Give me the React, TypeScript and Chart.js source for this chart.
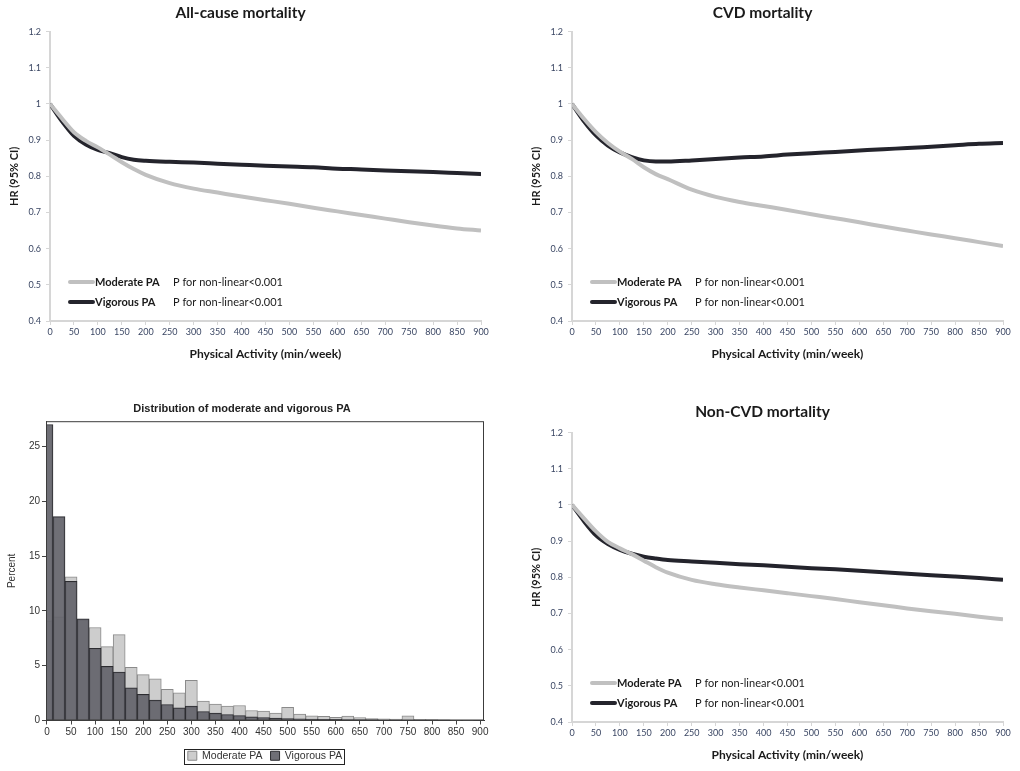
import React, { useEffect, useRef } from "react";
import { Chart, registerables } from "chart.js";

Chart.register(...registerables);

// x positions (min/week) where the spline curves are sampled
const paMinutes = [0, 25, 50, 75, 100, 125, 150, 175, 200, 250, 300, 350, 400, 450, 500, 550, 600, 650, 700, 750, 800, 850, 900];

const allCauseModerate = [1.0, 0.96, 0.922, 0.898, 0.88, 0.86, 0.839, 0.82, 0.804, 0.781, 0.766, 0.755, 0.744, 0.734, 0.724, 0.713, 0.703, 0.693, 0.683, 0.673, 0.664, 0.656, 0.65];
const allCauseVigorous = [1.0, 0.952, 0.912, 0.888, 0.873, 0.864, 0.853, 0.846, 0.843, 0.84, 0.838, 0.835, 0.832, 0.829, 0.827, 0.825, 0.821, 0.819, 0.816, 0.814, 0.812, 0.809, 0.806];

const cvdModerate = [1.0, 0.959, 0.922, 0.892, 0.868, 0.848, 0.825, 0.806, 0.792, 0.763, 0.743, 0.729, 0.718, 0.707, 0.695, 0.684, 0.673, 0.661, 0.65, 0.639, 0.629, 0.618, 0.607];
const cvdVigorous = [1.0, 0.952, 0.913, 0.885, 0.866, 0.853, 0.844, 0.841, 0.841, 0.844, 0.848, 0.852, 0.855, 0.86, 0.864, 0.867, 0.871, 0.875, 0.878, 0.882, 0.886, 0.89, 0.892];

const nonCvdModerate = [1.0, 0.963, 0.927, 0.898, 0.88, 0.864, 0.846, 0.828, 0.813, 0.793, 0.781, 0.772, 0.764, 0.756, 0.748, 0.74, 0.731, 0.723, 0.714, 0.706, 0.699, 0.691, 0.684];
const nonCvdVigorous = [1.0, 0.955, 0.916, 0.892, 0.876, 0.865, 0.857, 0.852, 0.848, 0.844, 0.84, 0.836, 0.833, 0.829, 0.825, 0.822, 0.818, 0.814, 0.81, 0.806, 0.802, 0.798, 0.793];

const seriesNames = ["Moderate PA", "Vigorous PA"];
const pValueText = ["P for non-linear<0.001", "P for non-linear<0.001"];

const hrTicks = [0.4, 0.5, 0.6, 0.7, 0.8, 0.9, 1, 1.1, 1.2];
const paTicks = [0, 50, 100, 150, 200, 250, 300, 350, 400, 450, 500, 550, 600, 650, 700, 750, 800, 850, 900];

// histogram bins (centre, min/week) and percent of participants
const histBins = [0, 25, 50, 75, 100, 125, 150, 175, 200, 225, 250, 275, 300, 325, 350, 375, 400, 425, 450, 475, 500, 525, 550, 575, 600, 625, 650, 675, 700, 725, 750, 775, 800, 825, 850, 875];
const histModerate = [9.1, 9.45, 13.1, 9.2, 8.48, 6.74, 7.84, 4.85, 4.18, 3.81, 2.84, 2.53, 3.66, 1.77, 1.49, 1.31, 1.37, 0.91, 0.85, 0.67, 1.19, 0.58, 0.43, 0.37, 0.3, 0.4, 0.27, 0.18, 0.15, 0.12, 0.43, 0.1, 0.08, 0.05, 0.04, 0.03];
const histVigorous = [27.0, 18.6, 12.7, 9.27, 6.59, 4.94, 4.42, 2.99, 2.38, 1.86, 1.46, 1.16, 1.31, 0.82, 0.67, 0.55, 0.46, 0.34, 0.27, 0.21, 0.18, 0.15, 0.12, 0.1, 0.1, 0.06, 0.05, 0.05, 0.04, 0.03, 0.03, 0.02, 0.02, 0.02, 0.01, 0.01];
const percentTicks = [0, 5, 10, 15, 20, 25];

const lineColors = ["#c0c0c0", "#24242c"];
const tickColor = "#3a4663";
const axisGray = "#d6d6d6";
const calibriLike = "Lato, 'Open Sans', sans-serif";
const arialLike = "'Liberation Sans', Arial, sans-serif";

// legend drawn inside the plot area, bottom-left, like the original figure
const insetLegend = {
  id: "insetLegend",
  afterDatasetsDraw(chart: any) {
    const { ctx, chartArea } = chart;
    ctx.save();
    chart.data.datasets.forEach((ds: any, i: number) => {
      const y = chartArea.bottom - 39 + i * 20;
      ctx.strokeStyle = ds.borderColor;
      ctx.lineWidth = 4;
      ctx.lineCap = "round";
      ctx.beginPath();
      ctx.moveTo(chartArea.left + 20, y);
      ctx.lineTo(chartArea.left + 43, y);
      ctx.stroke();
      ctx.fillStyle = "#1a1a1a";
      ctx.textBaseline = "middle";
      ctx.font = `bold 11px ${calibriLike}`;
      ctx.fillText(ds.label, chartArea.left + 45, y);
      ctx.font = `11px ${calibriLike}`;
      ctx.fillText(pValueText[i], chartArea.left + 123, y);
    });
    ctx.restore();
  },
};

const plotFrame = {
  id: "plotFrame",
  afterDatasetsDraw(chart: any) {
    const { ctx, chartArea } = chart;
    ctx.save();
    ctx.strokeStyle = "#3c3c3c";
    ctx.lineWidth = 1;
    ctx.strokeRect(chartArea.left + 0.5, chartArea.top + 0.5, chartArea.width - 1, chartArea.height - 1);
    ctx.restore();
  },
};

const legendBorder = {
  id: "legendBorder",
  afterDraw(chart: any) {
    const boxes = chart.legend?.legendHitBoxes;
    if (!boxes || !boxes.length) return;
    const left = Math.min(...boxes.map((b: any) => b.left)) - 4;
    const right = Math.max(...boxes.map((b: any) => b.left + b.width)) + 2;
    const top = boxes[0].top - 2;
    const h = boxes[0].height + 4;
    const { ctx } = chart;
    ctx.save();
    ctx.strokeStyle = "#222";
    ctx.lineWidth = 1;
    ctx.strokeRect(Math.round(left) + 0.5, Math.round(top) + 0.5, Math.round(right - left), Math.round(h));
    ctx.restore();
  },
};

function lineConfig(title: string, moderate: number[], vigorous: number[], titlePad: { top: number; bottom: number }, leftPad: number, rightPad: number): any {
  const series = [moderate, vigorous];
  return {
    type: "line",
    data: {
      datasets: series.map((vals, i) => ({
        label: seriesNames[i],
        data: paMinutes.map((x, j) => ({ x, y: vals[j] })),
        borderColor: lineColors[i],
        borderWidth: 4,
        pointRadius: 0,
        cubicInterpolationMode: "monotone",
        fill: false,
      })),
    },
    options: {
      responsive: false,
      animation: false,
      layout: { padding: { left: leftPad, right: rightPad, top: 0, bottom: 0 } },
      plugins: {
        legend: { display: false },
        tooltip: { enabled: false },
        title: {
          display: true,
          text: title,
          color: "#1a1a1a",
          font: { family: calibriLike, size: 15.5, weight: "bold", lineHeight: 1.2 },
          padding: titlePad,
        },
      },
      scales: {
        x: {
          type: "linear",
          min: 0,
          max: 900,
          afterBuildTicks: (axis: any) => {
            axis.ticks = paTicks.map((v) => ({ value: v }));
          },
          afterFit: (axis: any) => {
            axis.height = 49;
          },
          ticks: { autoSkip: false, maxRotation: 0, color: tickColor, padding: 2, font: { family: calibriLike, size: 9 } },
          grid: { drawOnChartArea: false, drawTicks: true, tickLength: 4, color: axisGray },
          border: { color: axisGray, width: 2 },
          title: {
            display: true,
            text: "Physical Activity (min/week)",
            color: "#1a1a1a",
            font: { family: calibriLike, size: 12, weight: "bold" },
            padding: { top: 0, bottom: 9 },
          },
        },
        y: {
          min: 0.4,
          max: 1.2,
          afterBuildTicks: (axis: any) => {
            axis.ticks = hrTicks.map((v) => ({ value: v }));
          },
          afterFit: (axis: any) => {
            axis.width = 50;
          },
          ticks: { color: tickColor, padding: 5, callback: (v: any) => String(v), font: { family: calibriLike, size: 9 } },
          grid: { drawOnChartArea: false, drawTicks: true, tickLength: 4, color: axisGray },
          border: { color: axisGray, width: 2 },
          title: {
            display: true,
            text: "HR (95% CI)",
            color: "#1a1a1a",
            font: { family: calibriLike, size: 11, weight: "bold" },
            padding: { top: 8, bottom: 0 },
          },
        },
      },
    },
    plugins: [insetLegend],
  };
}

function histConfig(): any {
  const series = [histModerate, histVigorous];
  const fills = ["#cdcdcd", "rgba(100,100,108,0.93)"];
  const borders = ["#8a8a8a", "#2c2c30"];
  return {
    type: "bar",
    data: {
      datasets: series.map((vals, i) => ({
        label: seriesNames[i],
        data: histBins.map((x, j) => ({ x, y: vals[j] })),
        backgroundColor: fills[i],
        borderColor: borders[i],
        borderWidth: 1,
        barPercentage: 1,
        categoryPercentage: 1,
        grouped: false,
        clip: 0,
        order: 2 - i,
      })),
    },
    options: {
      responsive: false,
      animation: false,
      layout: { padding: { left: 0, right: 26, top: 0, bottom: 0 } },
      plugins: {
        tooltip: { enabled: false },
        title: {
          display: true,
          text: "Distribution of moderate and vigorous PA",
          color: "#222",
          font: { family: arialLike, size: 11, weight: "bold" },
          padding: { top: 17, bottom: 6 },
        },
        legend: {
          position: "bottom",
          fullSize: false,
          labels: {
            sort: (a: any, b: any) => a.datasetIndex - b.datasetIndex,
            boxWidth: 9,
            boxHeight: 9,
            padding: 8,
            color: "#333",
            font: { family: arialLike, size: 10.5 },
          },
        },
      },
      scales: {
        x: {
          type: "linear",
          min: -2,
          max: 908,
          offset: false,
          afterBuildTicks: (axis: any) => {
            axis.ticks = paTicks.map((v) => ({ value: v }));
          },
          afterFit: (axis: any) => {
            axis.height = 22;
          },
          ticks: { autoSkip: false, maxRotation: 0, color: "#333", padding: 2, font: { family: arialLike, size: 10 } },
          grid: { offset: false, drawOnChartArea: false, drawTicks: true, tickLength: 4, color: "#444" },
          border: { color: "#3c3c3c", width: 1 },
        },
        y: {
          min: 0,
          max: 27.3,
          afterBuildTicks: (axis: any) => {
            axis.ticks = percentTicks.map((v) => ({ value: v }));
          },
          afterFit: (axis: any) => {
            axis.width = 46;
          },
          ticks: { color: "#333", padding: 2, font: { family: arialLike, size: 10 } },
          grid: { drawOnChartArea: false, drawTicks: true, tickLength: 4, color: "#444" },
          border: { color: "#3c3c3c", width: 1 },
          title: {
            display: true,
            text: "Percent",
            color: "#333",
            font: { family: arialLike, size: 10 },
            padding: { top: 6, bottom: 0 },
          },
        },
      },
    },
    plugins: [plotFrame, legendBorder],
  };
}

interface PanelProps {
  left: number;
  top: number;
  width: number;
  height: number;
  makeConfig: () => any;
}

const Panel: React.FC<PanelProps> = ({ left, top, width, height, makeConfig }) => {
  const canvasRef = useRef<HTMLCanvasElement>(null);
  const chartRef = useRef<Chart>();

  useEffect(() => {
    if (canvasRef.current) {
      const ctx = canvasRef.current.getContext("2d");
      if (ctx) {
        if (chartRef.current) chartRef.current.destroy();
        chartRef.current = new Chart(ctx, makeConfig());
      }
    }
    return () => {
      if (chartRef.current) {
        chartRef.current.destroy();
        chartRef.current = undefined;
      }
    };
  }, []);

  return (
    <div style={{ position: "absolute", left, top, width, height }}>
      <canvas ref={canvasRef} width={width} height={height} style={{ width, height }} />
    </div>
  );
};

export default function App() {
  return (
    <div style={{ position: "absolute", left: 0, top: 0, width: 1020, height: 771, background: "#fff", overflow: "hidden" }}>
      <Panel left={0} top={0} width={510} height={370}
        makeConfig={() => lineConfig("All-cause mortality", allCauseModerate, allCauseVigorous, { top: 4, bottom: 9 }, 0, 29)} />
      <Panel left={510} top={0} width={510} height={370}
        makeConfig={() => lineConfig("CVD mortality", cvdModerate, cvdVigorous, { top: 4, bottom: 9 }, 12, 17)} />
      <Panel left={0} top={385} width={510} height={386} makeConfig={histConfig} />
      <Panel left={510} top={385} width={510} height={386}
        makeConfig={() => lineConfig("Non-CVD mortality", nonCvdModerate, nonCvdVigorous, { top: 18, bottom: 11 }, 12, 17)} />
    </div>
  );
}
